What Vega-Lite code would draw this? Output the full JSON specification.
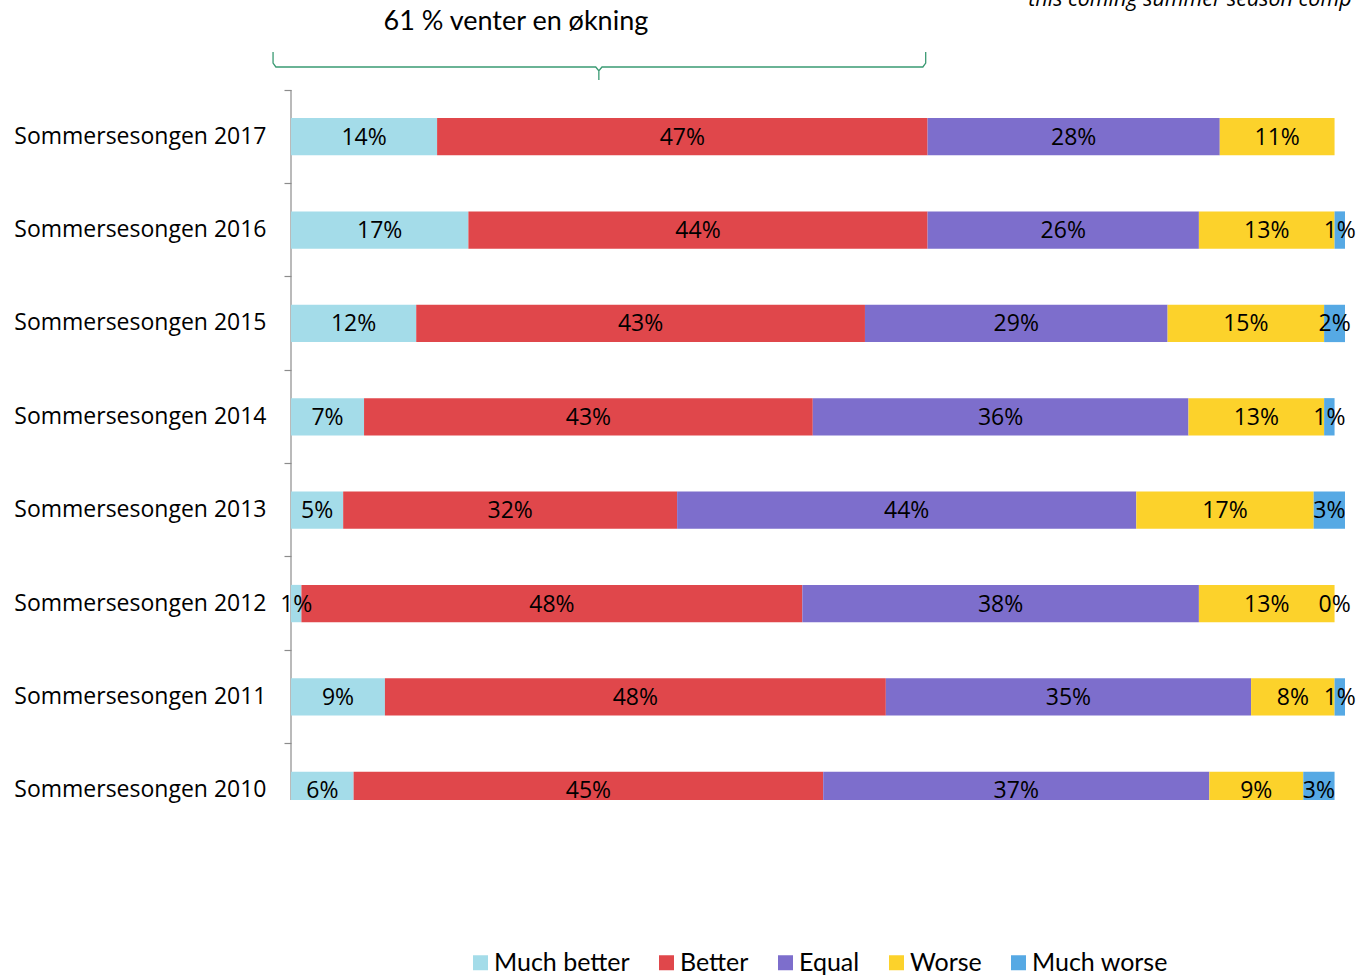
{
  "$schema": "https://vega.github.io/schema/vega-lite/v6.json",
  "width": 1054,
  "height": 710,
  "autosize": {"type": "none"},
  "padding": {"left": 291, "top": 90, "right": 12, "bottom": 175},
  "background": "white",
  "config": {"view": {"stroke": null}, "font": "Open Sans"},
  "datasets": {
    "survey": [
      {"season": "Sommersesongen 2017", "rating": "Much better", "k": 1, "pct": 0.14},
      {"season": "Sommersesongen 2017", "rating": "Better", "k": 2, "pct": 0.47},
      {"season": "Sommersesongen 2017", "rating": "Equal", "k": 3, "pct": 0.28},
      {"season": "Sommersesongen 2017", "rating": "Worse", "k": 4, "pct": 0.11},
      {"season": "Sommersesongen 2016", "rating": "Much better", "k": 1, "pct": 0.17},
      {"season": "Sommersesongen 2016", "rating": "Better", "k": 2, "pct": 0.44},
      {"season": "Sommersesongen 2016", "rating": "Equal", "k": 3, "pct": 0.26},
      {"season": "Sommersesongen 2016", "rating": "Worse", "k": 4, "pct": 0.13},
      {"season": "Sommersesongen 2016", "rating": "Much worse", "k": 5, "pct": 0.01},
      {"season": "Sommersesongen 2015", "rating": "Much better", "k": 1, "pct": 0.12},
      {"season": "Sommersesongen 2015", "rating": "Better", "k": 2, "pct": 0.43},
      {"season": "Sommersesongen 2015", "rating": "Equal", "k": 3, "pct": 0.29},
      {"season": "Sommersesongen 2015", "rating": "Worse", "k": 4, "pct": 0.15},
      {"season": "Sommersesongen 2015", "rating": "Much worse", "k": 5, "pct": 0.02},
      {"season": "Sommersesongen 2014", "rating": "Much better", "k": 1, "pct": 0.07},
      {"season": "Sommersesongen 2014", "rating": "Better", "k": 2, "pct": 0.43},
      {"season": "Sommersesongen 2014", "rating": "Equal", "k": 3, "pct": 0.36},
      {"season": "Sommersesongen 2014", "rating": "Worse", "k": 4, "pct": 0.13},
      {"season": "Sommersesongen 2014", "rating": "Much worse", "k": 5, "pct": 0.01},
      {"season": "Sommersesongen 2013", "rating": "Much better", "k": 1, "pct": 0.05},
      {"season": "Sommersesongen 2013", "rating": "Better", "k": 2, "pct": 0.32},
      {"season": "Sommersesongen 2013", "rating": "Equal", "k": 3, "pct": 0.44},
      {"season": "Sommersesongen 2013", "rating": "Worse", "k": 4, "pct": 0.17},
      {"season": "Sommersesongen 2013", "rating": "Much worse", "k": 5, "pct": 0.03},
      {"season": "Sommersesongen 2012", "rating": "Much better", "k": 1, "pct": 0.01},
      {"season": "Sommersesongen 2012", "rating": "Better", "k": 2, "pct": 0.48},
      {"season": "Sommersesongen 2012", "rating": "Equal", "k": 3, "pct": 0.38},
      {"season": "Sommersesongen 2012", "rating": "Worse", "k": 4, "pct": 0.13},
      {"season": "Sommersesongen 2012", "rating": "Much worse", "k": 5, "pct": 0.0},
      {"season": "Sommersesongen 2011", "rating": "Much better", "k": 1, "pct": 0.09},
      {"season": "Sommersesongen 2011", "rating": "Better", "k": 2, "pct": 0.48},
      {"season": "Sommersesongen 2011", "rating": "Equal", "k": 3, "pct": 0.35},
      {"season": "Sommersesongen 2011", "rating": "Worse", "k": 4, "pct": 0.08},
      {"season": "Sommersesongen 2011", "rating": "Much worse", "k": 5, "pct": 0.01},
      {"season": "Sommersesongen 2010", "rating": "Much better", "k": 1, "pct": 0.06},
      {"season": "Sommersesongen 2010", "rating": "Better", "k": 2, "pct": 0.45},
      {"season": "Sommersesongen 2010", "rating": "Equal", "k": 3, "pct": 0.37},
      {"season": "Sommersesongen 2010", "rating": "Worse", "k": 4, "pct": 0.09},
      {"season": "Sommersesongen 2010", "rating": "Much worse", "k": 5, "pct": 0.03}
    ],
    "bracket": [
      {"i": 1, "x": -0.0172, "y": 105.35},
      {"i": 2, "x": -0.0172, "y": 103.8},
      {"i": 3, "x": -0.0145, "y": 103.24},
      {"i": 4, "x": 0.292, "y": 103.24},
      {"i": 5, "x": 0.295, "y": 102.7},
      {"i": 6, "x": 0.295, "y": 101.41},
      {"i": 7, "x": 0.295, "y": 102.7},
      {"i": 8, "x": 0.298, "y": 103.24},
      {"i": 9, "x": 0.6055, "y": 103.24},
      {"i": 10, "x": 0.6082, "y": 103.8},
      {"i": 11, "x": 0.6082, "y": 105.35}
    ],
    "notes": [
      {"id": "title", "text": "61 % venter en økning", "x": 0.2155, "y": 109.58},
      {"id": "corner", "text": "this coming summer season comp", "x": 1.0163, "y": 111.8}
    ]
  },
  "resolve": {"scale": {"y": "independent"}},
  "layer": [
    {
      "data": {"values": [{"v": 0}]},
      "mark": {"type": "rule", "color": "#8c8c8c", "strokeWidth": 1.2},
      "encoding": {
        "x": {"field": "v", "type": "quantitative", "scale": {"domain": [0, 1.01], "nice": false}, "axis": null}
      }
    },
    {
      "data": {"name": "survey"},
      "mark": {"type": "bar", "height": {"band": 0.4}, "clip": true},
      "encoding": {
        "y": {
          "field": "season", "type": "nominal", "sort": null, "title": null,
          "scale": {"domain": ["Sommersesongen 2017", "Sommersesongen 2016", "Sommersesongen 2015", "Sommersesongen 2014", "Sommersesongen 2013", "Sommersesongen 2012", "Sommersesongen 2011", "Sommersesongen 2010"], "range": [0, 747], "paddingInner": 0, "paddingOuter": 0},
          "axis": {"domain": false, "grid": false, "bandPosition": 0, "ticks": true, "tickSize": 7, "tickColor": "#8c8c8c", "tickWidth": 1.2, "labelFont": "Open Sans", "labelFontSize": 23, "labelColor": "#000000", "labelPadding": 18, "labelLimit": 400}
        },
        "x": {"field": "pct", "type": "quantitative", "stack": "zero", "scale": {"domain": [0, 1.01], "nice": false}, "axis": null},
        "color": {
          "field": "rating", "type": "nominal",
          "scale": {"domain": ["Much better", "Better", "Equal", "Worse", "Much worse"], "range": ["#A4DCE9", "#E0474B", "#7D6ECC", "#FCD22B", "#56A9E4"]},
          "legend": {"orient": "none", "legendX": 177, "legendY": 860, "direction": "horizontal", "columns": 5, "title": null, "symbolType": "square", "symbolSize": 225, "symbolStrokeWidth": 0, "labelFont": "Lato", "labelFontSize": 25, "labelColor": "#000000", "labelOffset": 1, "columnPadding": 24, "labelLimit": 300}
        },
        "order": {"field": "k", "type": "quantitative"}
      }
    },
    {
      "data": {"name": "survey"},
      "transform": [{"filter": "datum.season != 'Sommersesongen 2010'"}],
      "mark": {"type": "text", "font": "Open Sans", "fontSize": 23, "color": "#000000", "baseline": "middle", "dy": 1},
      "encoding": {
        "y": {
          "field": "season", "type": "nominal", "sort": null, "axis": null,
          "scale": {"domain": ["Sommersesongen 2017", "Sommersesongen 2016", "Sommersesongen 2015", "Sommersesongen 2014", "Sommersesongen 2013", "Sommersesongen 2012", "Sommersesongen 2011", "Sommersesongen 2010"], "range": [0, 747], "paddingInner": 0, "paddingOuter": 0}
        },
        "x": {"field": "pct", "type": "quantitative", "stack": "zero", "bandPosition": 0.5, "scale": {"domain": [0, 1.01], "nice": false}, "axis": null},
        "text": {"field": "pct", "type": "quantitative", "format": ".0%"},
        "order": {"field": "k", "type": "quantitative"}
      }
    },
    {
      "data": {"name": "survey"},
      "transform": [{"filter": "datum.season == 'Sommersesongen 2010'"}],
      "mark": {"type": "text", "font": "Open Sans", "fontSize": 23, "color": "#000000", "baseline": "middle", "dy": 1, "clip": true},
      "encoding": {
        "y": {
          "field": "season", "type": "nominal", "sort": null, "axis": null,
          "scale": {"domain": ["Sommersesongen 2017", "Sommersesongen 2016", "Sommersesongen 2015", "Sommersesongen 2014", "Sommersesongen 2013", "Sommersesongen 2012", "Sommersesongen 2011", "Sommersesongen 2010"], "range": [0, 747], "paddingInner": 0, "paddingOuter": 0}
        },
        "x": {"field": "pct", "type": "quantitative", "stack": "zero", "bandPosition": 0.5, "scale": {"domain": [0, 1.01], "nice": false}, "axis": null},
        "text": {"field": "pct", "type": "quantitative", "format": ".0%"},
        "order": {"field": "k", "type": "quantitative"}
      }
    },
    {
      "data": {"name": "bracket"},
      "mark": {"type": "line", "color": "#3A9A73", "strokeWidth": 1.3, "clip": false},
      "encoding": {
        "x": {"field": "x", "type": "quantitative", "scale": {"domain": [0, 1.01], "nice": false}, "axis": null},
        "y": {"field": "y", "type": "quantitative", "scale": {"domain": [0, 100], "nice": false, "zero": false}, "axis": null},
        "order": {"field": "i", "type": "quantitative"}
      }
    },
    {
      "data": {"name": "notes"},
      "transform": [{"filter": "datum.id == 'title'"}],
      "mark": {"type": "text", "font": "Lato", "fontSize": 27, "color": "#000000", "align": "center", "baseline": "middle"},
      "encoding": {
        "x": {"field": "x", "type": "quantitative", "scale": {"domain": [0, 1.01], "nice": false}, "axis": null},
        "y": {"field": "y", "type": "quantitative", "scale": {"domain": [0, 100], "nice": false, "zero": false}, "axis": null},
        "text": {"field": "text", "type": "nominal"}
      }
    },
    {
      "data": {"name": "notes"},
      "transform": [{"filter": "datum.id == 'corner'"}],
      "mark": {"type": "text", "font": "Open Sans", "fontStyle": "italic", "fontSize": 21.5, "color": "#000000", "align": "right", "baseline": "alphabetic"},
      "encoding": {
        "x": {"field": "x", "type": "quantitative", "scale": {"domain": [0, 1.01], "nice": false}, "axis": null},
        "y": {"field": "y", "type": "quantitative", "scale": {"domain": [0, 100], "nice": false, "zero": false}, "axis": null},
        "text": {"field": "text", "type": "nominal"}
      }
    }
  ]
}
